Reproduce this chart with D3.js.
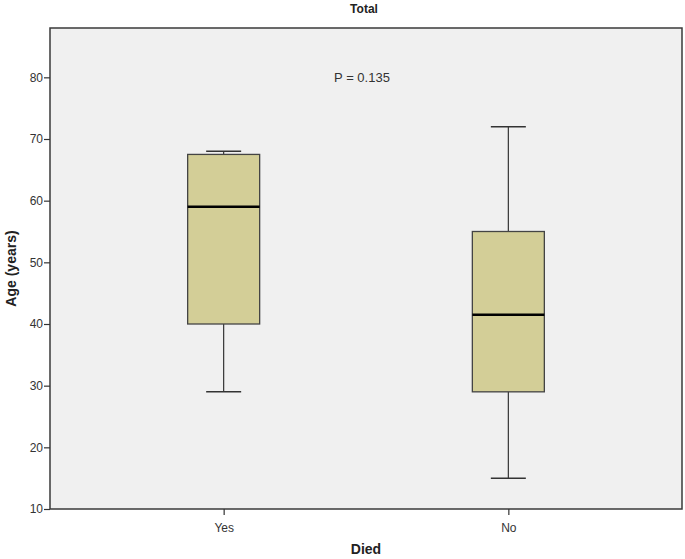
<!DOCTYPE html>
<html>
<head>
<meta charset="utf-8">
<script src="https://cdn.jsdelivr.net/npm/d3@7"></script>
<style>
  body { margin: 0; background: #fff; }
  text { font-family: "Liberation Sans", Arial, sans-serif; }
</style>
</head>
<body>
<div id="chart"></div>
<script>
// values
const groups = ['Yes', 'No'];
const whiskerLow = [29, 15];
const q1 = [40, 29];
const median = [59, 41.5];
const q3 = [67.5, 55];
const whiskerHigh = [68, 72];
const yTicks = [10, 20, 30, 40, 50, 60, 70, 80];

const width = 685, height = 559;
const margin = {top: 28, right: 3, bottom: 50, left: 50};

const svg = d3.select('#chart').append('svg')
    .attr('width', width)
    .attr('height', height);

const x = d3.scalePoint().domain(groups)
    .range([margin.left, width - margin.right]).padding(0.61);
const y = d3.scaleLinear().domain([10, 88])
    .range([height - margin.bottom, margin.top]);

const boxW = 72, capW = 35;

// plot background
svg.append('rect')
    .attr('x', margin.left).attr('y', margin.top)
    .attr('width', width - margin.left - margin.right)
    .attr('height', height - margin.top - margin.bottom)
    .attr('fill', '#f0f0f0')
    .attr('stroke', '#3a3a3a').attr('stroke-width', 1.5);

// axes
const yAxis = svg.append('g')
    .attr('transform', `translate(${margin.left},0)`)
    .call(d3.axisLeft(y).tickValues(yTicks).tickSize(6).tickSizeOuter(0));
const xAxis = svg.append('g')
    .attr('transform', `translate(0,${height - margin.bottom})`)
    .call(d3.axisBottom(x).tickSize(6).tickSizeOuter(0));

[yAxis, xAxis].forEach(a => {
    a.select('.domain').remove();
    a.selectAll('line').attr('stroke', '#333').attr('stroke-width', 1.2);
    a.selectAll('text').attr('fill', '#333').style('font-size', '12px');
});
yAxis.selectAll('text').attr('x', -7);
xAxis.selectAll('text').attr('dy', '1.2em');

// boxes
const data = groups.map((g, i) => ({
    g, lo: whiskerLow[i], q1: q1[i], med: median[i], q3: q3[i], hi: whiskerHigh[i]
}));

const box = svg.selectAll('.box').data(data).enter().append('g').attr('class', 'box');

box.append('line')
    .attr('x1', d => x(d.g)).attr('x2', d => x(d.g))
    .attr('y1', d => y(d.hi)).attr('y2', d => y(d.q3))
    .attr('stroke', '#333').attr('stroke-width', 1.2);
box.append('line')
    .attr('x1', d => x(d.g)).attr('x2', d => x(d.g))
    .attr('y1', d => y(d.q1)).attr('y2', d => y(d.lo))
    .attr('stroke', '#333').attr('stroke-width', 1.2);

['hi', 'lo'].forEach(k => {
    box.append('line')
        .attr('x1', d => x(d.g) - capW / 2).attr('x2', d => x(d.g) + capW / 2)
        .attr('y1', d => y(d[k])).attr('y2', d => y(d[k]))
        .attr('stroke', '#333').attr('stroke-width', 1.5);
});

box.append('rect')
    .attr('x', d => x(d.g) - boxW / 2)
    .attr('y', d => y(d.q3))
    .attr('width', boxW)
    .attr('height', d => y(d.q1) - y(d.q3))
    .attr('fill', '#d3ce97')
    .attr('stroke', '#444').attr('stroke-width', 1.3);

box.append('line')
    .attr('x1', d => x(d.g) - boxW / 2).attr('x2', d => x(d.g) + boxW / 2)
    .attr('y1', d => y(d.med)).attr('y2', d => y(d.med))
    .attr('stroke', '#000').attr('stroke-width', 2.5);

// texts
svg.append('text')
    .attr('x', 364).attr('y', 13)
    .attr('text-anchor', 'middle')
    .style('font-size', '12px').style('font-weight', 'bold')
    .attr('fill', '#222')
    .text('Total');

svg.append('text')
    .attr('x', 362).attr('y', y(80) + 5)
    .attr('text-anchor', 'middle')
    .style('font-size', '13px')
    .attr('fill', '#333')
    .text('P = 0.135');

svg.append('text')
    .attr('transform', `translate(16,${(margin.top + height - margin.bottom) / 2}) rotate(-90)`)
    .attr('text-anchor', 'middle')
    .style('font-size', '14px').style('font-weight', 'bold')
    .attr('fill', '#222')
    .text('Age (years)');

svg.append('text')
    .attr('x', 366).attr('y', 554)
    .attr('text-anchor', 'middle')
    .style('font-size', '14px').style('font-weight', 'bold')
    .attr('fill', '#222')
    .text('Died');
</script>
</body>
</html>
